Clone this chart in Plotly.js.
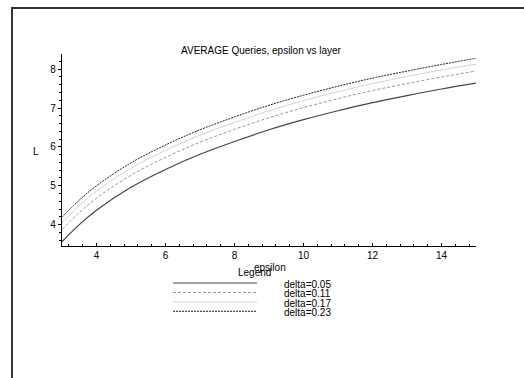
<!DOCTYPE html>
<html>
<head>
<meta charset="utf-8">
<script src="https://cdn.plot.ly/plotly-3.0.1.min.js"></script>
<style>
  html, body { margin: 0; padding: 0; background: #fff; }
  #wrap { position: relative; width: 524px; height: 378px; overflow: hidden; }
  #frame { position: absolute; left: 11px; top: 7px; width: 530px; height: 390px;
           border-top: 2px solid #333; border-left: 2px solid #333; }
  #chart { position: absolute; left: 0; top: 0; width: 524px; height: 378px; }
</style>
</head>
<body>
<div id="wrap">
  <div id="frame"></div>
  <div id="chart"></div>
</div>
<script>
// ---- data ----
const epsilon = [3, 3.5, 4, 5, 6, 7, 8, 9, 10, 11, 12, 13, 14, 15];
const deltaLabels = ["delta=0.05", "delta=0.11", "delta=0.17", "delta=0.23"];
const L_d05 = [3.56, 4.00, 4.37, 4.96, 5.42, 5.81, 6.14, 6.44, 6.70, 6.93, 7.14, 7.32, 7.49, 7.64];
const L_d11 = [3.87, 4.31, 4.68, 5.27, 5.73, 6.12, 6.45, 6.75, 7.01, 7.24, 7.45, 7.63, 7.80, 7.95];
const L_d17 = [4.05, 4.49, 4.86, 5.45, 5.91, 6.30, 6.63, 6.93, 7.19, 7.42, 7.63, 7.81, 7.98, 8.13];
const L_d23 = [4.19, 4.63, 5.00, 5.59, 6.05, 6.44, 6.77, 7.07, 7.33, 7.56, 7.77, 7.95, 8.12, 8.28];
const xTickVals = [4, 6, 8, 10, 12, 14];
const yTickVals = [4, 5, 6, 7, 8];

// ---- styles ----
const series = [L_d05, L_d11, L_d17, L_d23];
const styles = [
  {color: "#444444", width: 1.2, dash: "solid"},
  {color: "#8a8a8a", width: 0.9, dash: "3px,2px"},
  {color: "#d4d4d4", width: 1.0, dash: "solid"},
  {color: "#222222", width: 1.0, dash: "2px,1px"}
];

const W = 524, H = 378;
const M = {l: 62, r: 48, t: 54, b: 132};
const pw = W - M.l - M.r, ph = H - M.t - M.b;
const px2x = px => (px - M.l) / pw;
const py2y = py => (H - M.b - py) / ph;

const FONT = "Liberation Sans, Arial, Helvetica, sans-serif";

const traces = series.map((ys, i) => ({
  type: "scatter", mode: "lines", x: epsilon, y: ys, name: deltaLabels[i],
  line: {color: styles[i].color, width: styles[i].width, dash: styles[i].dash,
         shape: "spline", smoothing: 1},
  hoverinfo: "skip", showlegend: false
}));

const shapes = [];
const annotations = [
  {text: "L", xref: "paper", yref: "paper", x: px2x(36), y: py2y(151),
   xanchor: "center", yanchor: "middle", showarrow: false, font: {size: 10, color: "#000", family: FONT}},
  {text: "epsilon", xref: "paper", yref: "paper", x: px2x(270), y: py2y(267),
   xanchor: "center", yanchor: "middle", showarrow: false, font: {size: 10, color: "#000", family: FONT}},
  {text: "Legend", xref: "paper", yref: "paper", x: px2x(254), y: py2y(272.5),
   xanchor: "center", yanchor: "middle", showarrow: false, font: {size: 10, color: "#000", family: FONT}}
];
const rowY = [283, 292.5, 302, 311.3];
deltaLabels.forEach((lab, i) => {
  shapes.push({type: "line", xref: "paper", yref: "paper",
    x0: px2x(173), x1: px2x(257), y0: py2y(rowY[i]), y1: py2y(rowY[i]),
    line: {color: styles[i].color, width: styles[i].width, dash: styles[i].dash}});
  annotations.push({text: lab, xref: "paper", yref: "paper",
    x: px2x(282), y: py2y(rowY[i] + 1), xanchor: "left", yanchor: "middle",
    showarrow: false, font: {size: 10, color: "#000", family: FONT}});
});

const layout = {
  width: W, height: H,
  margin: M,
  paper_bgcolor: "rgba(0,0,0,0)",
  plot_bgcolor: "rgba(0,0,0,0)",
  font: {family: FONT, size: 10, color: "#000"},
  title: {text: "AVERAGE Queries, epsilon vs layer", x: 261 / W, xanchor: "center",
          y: 1 - 50 / H, yanchor: "middle", font: {size: 10, color: "#000", family: FONT}},
  xaxis: {
    range: [3, 15], showgrid: false, zeroline: false,
    showline: true, linecolor: "#000", linewidth: 1.3,
    tickmode: "array", tickvals: xTickVals, ticks: "inside", ticklen: 3, tickcolor: "#000",
    minor: {dtick: 0.4, tick0: 0, ticks: "inside", ticklen: 2, tickcolor: "#000"},
    tickfont: {size: 10, family: FONT, color: "#000"}
  },
  yaxis: {
    range: [3.45, 8.39], showgrid: false, zeroline: false,
    showline: true, linecolor: "#000", linewidth: 1.3,
    tickmode: "array", tickvals: yTickVals, ticks: "outside", ticklen: 3, tickcolor: "#000",
    minor: {dtick: 0.2, tick0: 0, ticks: "outside", ticklen: 2, tickcolor: "#000"},
    tickfont: {size: 10, family: FONT, color: "#000"}
  },
  shapes: shapes,
  annotations: annotations,
  showlegend: false
};

Plotly.newPlot("chart", traces, layout, {staticPlot: true, displayModeBar: false});
</script>
</body>
</html>
